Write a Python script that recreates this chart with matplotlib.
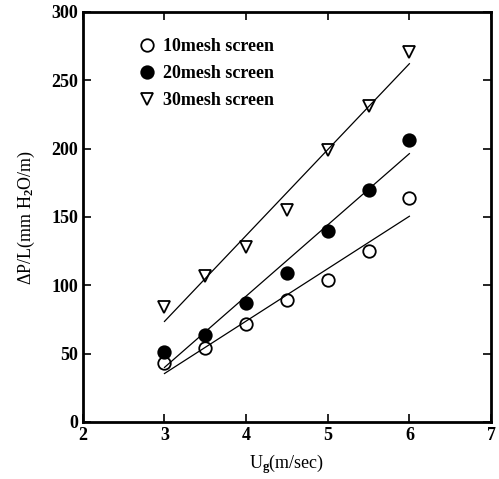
import numpy as np
import matplotlib
matplotlib.use('Agg')
import matplotlib.pyplot as plt

plt.rcParams['font.family'] = 'Liberation Serif'
plt.rcParams['font.weight'] = 'bold'
plt.rcParams['mathtext.fontset'] = 'custom'
plt.rcParams['mathtext.rm'] = 'Liberation Serif:bold'
plt.rcParams['mathtext.default'] = 'rm'

# Datos
ug = [3, 3.5, 4, 4.5, 5, 5.5, 6]
dp_10 = [43, 54, 72, 89, 104, 125, 164]
dp_20 = [51, 64, 87, 109, 140, 170, 206]
dp_30 = [84, 107, 128, 155, 199, 231, 271]
labels = ['10mesh screen', '20mesh screen', '30mesh screen']

fig = plt.figure(figsize=(4.99, 4.79), dpi=100)
ax = fig.add_axes([0.166, 0.119, 0.818, 0.856])

x = np.array(ug)
ax.plot(ug, dp_10, 'o', mfc='white', mec='black', ms=9, mew=1.3, label=labels[0])
ax.plot(ug, dp_20, 'o', mfc='black', mec='black', ms=9, mew=1.3, label=labels[1])
ax.plot(ug, dp_30, 'v', mfc='white', mec='black', ms=9, mew=1.3, label=labels[2])

# Rectas de ajuste lineal
for y in (dp_10, dp_20, dp_30):
    m, b = np.polyfit(x, y, 1)
    ax.plot([x[0], x[-1]], [m * x[0] + b, m * x[-1] + b], color='black', lw=0.9)

ax.set_xlim(2, 7)
ax.set_ylim(0, 300)
ax.set_xticks([2, 3, 4, 5, 6, 7])
ax.set_yticks([0, 50, 100, 150, 200, 250, 300])
ax.tick_params(direction='in', top=True, right=True, length=6, width=1.2, labelsize=13)
for s in ax.spines.values():
    s.set_linewidth(2)

ax.set_xlabel('U$_g$(m/sec)', fontsize=13, labelpad=6)
ax.set_ylabel('ΔP/L(mm H$_2$O/m)', fontsize=13, labelpad=10)
ax.legend(loc='upper left', bbox_to_anchor=(0.09, 0.975), frameon=False, fontsize=13,
          handletextpad=0.3, labelspacing=0.55, handlelength=1.2)

plt.savefig('out.png')
